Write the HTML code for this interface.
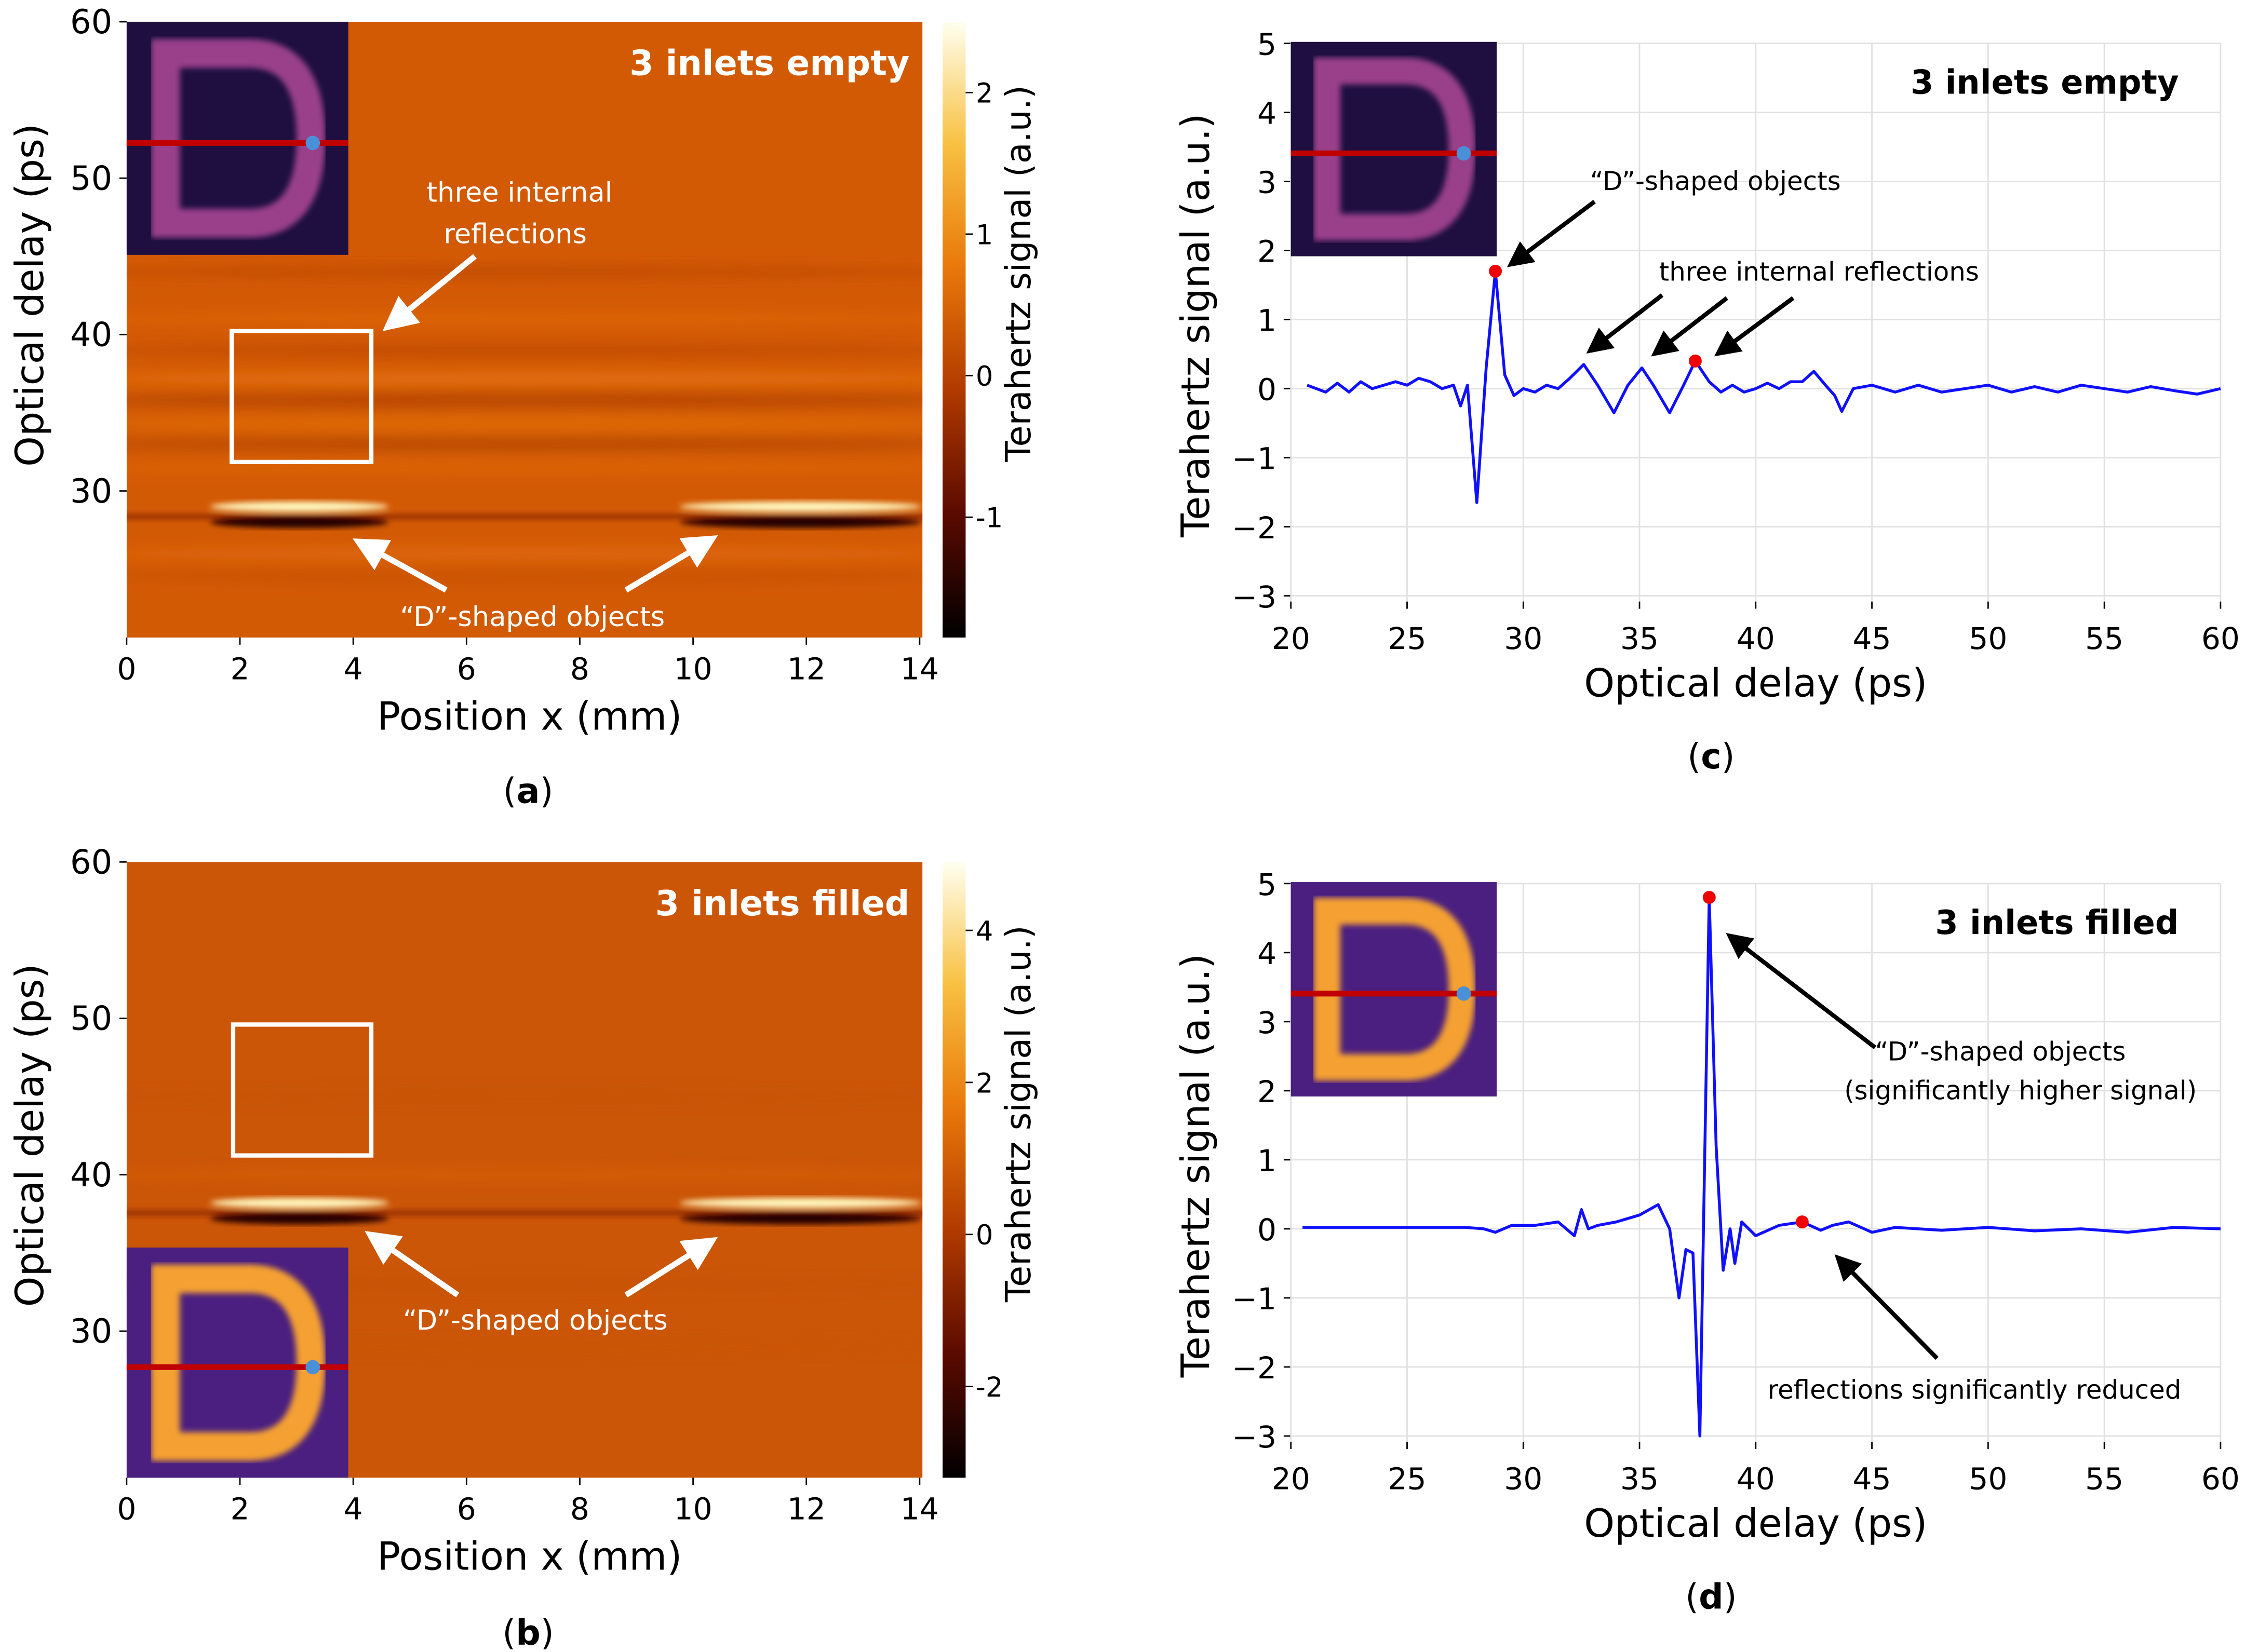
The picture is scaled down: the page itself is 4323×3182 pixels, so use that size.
<!DOCTYPE html>
<html><head><meta charset="utf-8"><style>
html,body{margin:0;padding:0;background:#fff}
svg{display:block}
text{font-family:"DejaVu Sans","Liberation Sans",sans-serif}
</style></head><body>
<svg id="fig" width="4323" height="3182" viewBox="0 0 1560 1148" xmlns="http://www.w3.org/2000/svg">
<defs>
<linearGradient id="cmap" x1="0" y1="1" x2="0" y2="0">
<stop offset="0" stop-color="#000"/><stop offset="0.2" stop-color="#5a0a00"/><stop offset="0.4" stop-color="#b03a00"/><stop offset="0.6" stop-color="#e8780a"/><stop offset="0.8" stop-color="#f8c040"/><stop offset="1" stop-color="#fffff0"/>
</linearGradient>
<filter id="blur2"><feGaussianBlur stdDeviation="2"/></filter>
<filter id="blur4" x="-0.1" y="-0.5" width="1.2" height="2"><feGaussianBlur stdDeviation="4"/></filter>
<clipPath id="clipA"><rect x="88" y="15" width="553" height="428"/></clipPath>
<clipPath id="clipB"><rect x="88" y="599" width="553" height="428"/></clipPath>
<marker id="arrW" markerWidth="6" markerHeight="6" refX="4" refY="3" orient="auto" markerUnits="strokeWidth"><path d="M0,0 L6,3 L0,6 z" fill="#fff"/></marker>
<marker id="arrK" markerWidth="6" markerHeight="6" refX="4" refY="3" orient="auto" markerUnits="strokeWidth"><path d="M0,0 L6,3 L0,6 z" fill="#000"/></marker>
</defs>
<g id="root"></g>
</svg>
<script>
// ---- data for panels (c) and (d) ----
const timesC = [20.7,21.5,22,22.5,23,23.5,24,24.5,25,25.5,26,26.5,27,27.3,27.6,28,28.4,28.8,29.2,29.6,30,30.5,31,31.5,32,32.6,33.2,33.9,34.5,35.1,35.6,36.3,36.9,37.4,38,38.5,39,39.5,40,40.5,41,41.5,42,42.5,43,43.4,43.7,44.2,45,46,47,48,49,50,51,52,53,54,55,56,57,58,59,60];
const valuesC = [0.05,-0.05,0.08,-0.05,0.1,0.0,0.05,0.1,0.05,0.15,0.1,0.0,0.05,-0.25,0.05,-1.65,0.3,1.7,0.2,-0.1,0.0,-0.05,0.05,0.0,0.15,0.35,0.05,-0.35,0.05,0.3,0.05,-0.35,0.05,0.4,0.1,-0.05,0.05,-0.05,0.0,0.08,0.0,0.1,0.1,0.25,0.05,-0.1,-0.33,0.0,0.05,-0.05,0.05,-0.05,0.0,0.05,-0.05,0.03,-0.05,0.05,0.0,-0.05,0.03,-0.03,-0.08,0.0];
const timesD = [20.5,22,24,26,27.5,28.3,28.8,29.5,30.5,31.5,32.2,32.5,32.8,33.2,34,35,35.8,36.3,36.7,37.0,37.3,37.6,38.0,38.3,38.6,38.9,39.1,39.4,40,41,42,42.8,43.3,44,45,46,48,50,52,54,56,58,60];
const valuesD = [0.02,0.02,0.02,0.02,0.02,0.0,-0.05,0.05,0.05,0.1,-0.1,0.28,0.0,0.05,0.1,0.2,0.35,0.0,-1.0,-0.3,-0.35,-3.0,4.8,1.2,-0.6,0.0,-0.5,0.1,-0.1,0.05,0.1,-0.02,0.05,0.1,-0.05,0.02,-0.02,0.02,-0.03,0.0,-0.05,0.02,0.0];
const redC = [[28.8,1.7],[37.4,0.4]];
const redD = [[38.0,4.8],[42.0,0.1]];
const xTicksLine = [20,25,30,35,40,45,50,55,60];
const yTicksLine = [-3,-2,-1,0,1,2,3,4,5];
const xTicksMap = [0,2,4,6,8,10,12,14];
const yTicksMap = [30,40,50,60];
const cbTicksA = [-1,0,1,2];
const cbTicksB = [-2,0,2,4];

const NS="http://www.w3.org/2000/svg";
const root=document.getElementById('root');
function mk(tag,attrs,parent,txt){const e=document.createElementNS(NS,tag);for(const k in attrs)e.setAttribute(k,attrs[k]);if(txt!==undefined)e.textContent=txt;(parent||root).appendChild(e);return e;}

// ---- heatmap panels ----
function heatPanel(top,bandT,label,dataName,cbTicks,cbMin,cbMax,filled){
  const g=mk('g',{});
  
  
  const yS=t=>top+(60-t)*10.87;
  const xS=v=>88+v*39.36;
  const clip=mk('g',{'clip-path':top<300?'url(#clipA)':'url(#clipB)'},g);
  mk('rect',{x:88,y:top,width:553,height:428,fill:filled?'#cc5608':'#d35a05'},clip);
  const st=mk('g',{filter:'url(#blur4)'},clip);
  const stripes = filled ? [[45,'#c04c05',0.3],[40,'#e06a10',0.3],[33,'#c04c05',0.3],[29,'#c85208',0.4]]
    : [[44,'#b84403',0.5],[41,'#e87010',0.4],[39,'#b84403',0.5],[37.2,'#f08010',0.5],[35.8,'#a83c02',0.6],[34.3,'#f08010',0.4],[33,'#a83c02',0.5],[31.5,'#e87010',0.4],[26,'#e87012',0.5],[24.5,'#c44d04',0.5]];
  stripes.forEach(s=>mk('ellipse',{cx:365,cy:yS(s[0]),rx:320,ry:5,fill:s[1],opacity:s[2]},st));
  const b=mk('g',{filter:'url(#blur2)'},clip);
  mk('rect',{x:80,y:yS(bandT)-1,width:570,height:3,fill:'#7a1800',opacity:0.8},b);
  [[1.5,4.6],[9.8,14]].forEach(r=>{
    mk('ellipse',{cx:xS((r[0]+r[1])/2),cy:yS(bandT+0.6),rx:(r[1]-r[0])*20,ry:3.5,fill:'#fff8c0'},b);
    mk('ellipse',{cx:xS((r[0]+r[1])/2),cy:yS(bandT-0.4),rx:(r[1]-r[0])*20,ry:4,fill:'#200000'},b);
  });
  xTicksMap.forEach(v=>{mk('line',{x1:xS(v),y1:top+428,x2:xS(v),y2:top+433,stroke:'#000'},g);
    const t=mk('text',{x:xS(v),y:top+457,'font-size':21,'text-anchor':'middle'},g,String(v));});
  yTicksMap.forEach(v=>{mk('line',{x1:83,y1:yS(v),x2:88,y2:yS(v),stroke:'#000'},g);
    const t=mk('text',{x:78,y:yS(v)+8,'font-size':23,'text-anchor':'end'},g,String(v));});
  const xl=mk('text',{x:368,y:top+492,'font-size':27,'text-anchor':'middle'},g,'Position x (mm)');
  const yl=mk('text',{x:30,y:top+190,'font-size':27,'text-anchor':'middle',transform:`rotate(-90 30 ${top+190})`},g,'Optical delay (ps)');
  mk('rect',{x:655,y:top,width:16,height:428,fill:'url(#cmap)'},g);
  const cS=v=>top+428-(v-cbMin)/(cbMax-cbMin)*428;
  cbTicks.forEach(v=>{mk('line',{x1:671,y1:cS(v),x2:676,y2:cS(v),stroke:'#000'},g);
    const t=mk('text',{x:678,y:cS(v)+7,'font-size':19},g,String(v));});
  const cl=mk('text',{x:716,y:top+175,'font-size':24,'text-anchor':'middle',transform:`rotate(-90 716 ${top+175})`},g,'Terahertz signal (a.u.)');
  const tl=mk('text',{x:632,y:top+37,'font-size':24,'font-weight':'bold',fill:'#fff','text-anchor':'end'},g,label);
  return {g,yS,xS};
}
function dInset(g,x,y,w,h,filled,dataName){
  const ig=mk('g',{},g);
  
  
  mk('rect',{x:x,y:y,width:w,height:h,fill:filled?'#4a1f80':'#1e0f40'},ig);
  const sx=w/154, sy=h/162;
  const p=`M${x+27*sx},${y+22*sy} L${x+27*sx},${y+140*sy} L${x+85*sx},${y+140*sy} Q${x+128*sx},${y+140*sy} ${x+128*sx},${y+81*sy} Q${x+128*sx},${y+22*sy} ${x+85*sx},${y+22*sy} Z`;
  mk('path',{d:p,fill:'none',stroke:filled?'#f4a030':'#9a3f8a','stroke-width':20*sx,filter:'url(#blur2)'},ig);
  mk('line',{x1:x,y1:y+h*0.52,x2:x+w,y2:y+h*0.52,stroke:'#c00000','stroke-width':4},ig);
  mk('circle',{cx:x+w*0.84,cy:y+h*0.52,r:5,fill:'#4a90d8'},ig);
}
const A=heatPanel(15,28.4,'3 inlets empty','heatmap-a',cbTicksA,-1.85,2.5,false);
dInset(A.g,88,15,154,162,false,'inset-a');
mk('rect',{x:161,y:230,width:97,height:91,fill:'none',stroke:'#fff','stroke-width':3},A.g);
mk('text',{x:361,y:140,'font-size':19,fill:'#fff','text-anchor':'middle'},A.g,'three internal');
mk('text',{x:358,y:169,'font-size':19,fill:'#fff','text-anchor':'middle'},A.g,'reflections');
mk('line',{x1:330,y1:178,x2:272,y2:225,stroke:'#fff','stroke-width':4,'marker-end':'url(#arrW)'},A.g);
mk('line',{x1:310,y1:410,x2:252,y2:378,stroke:'#fff','stroke-width':4,'marker-end':'url(#arrW)'},A.g);
mk('line',{x1:435,y1:410,x2:492,y2:376,stroke:'#fff','stroke-width':4,'marker-end':'url(#arrW)'},A.g);
mk('text',{x:370,y:435,'font-size':19,fill:'#fff','text-anchor':'middle'},A.g,'“D”-shaped objects');

const B=heatPanel(599,37.6,'3 inlets filled','heatmap-b',cbTicksB,-3.2,4.9,true);
dInset(B.g,88,867,154,160,true,'inset-b');
mk('rect',{x:162,y:712,width:96,height:91,fill:'none',stroke:'#fff','stroke-width':3},B.g);
mk('line',{x1:318,y1:900,x2:260,y2:860,stroke:'#fff','stroke-width':4,'marker-end':'url(#arrW)'},B.g);
mk('line',{x1:435,y1:900,x2:492,y2:864,stroke:'#fff','stroke-width':4,'marker-end':'url(#arrW)'},B.g);
mk('text',{x:372,y:924,'font-size':19,fill:'#fff','text-anchor':'middle'},B.g,'“D”-shaped objects');

// ---- line panels ----
function linePanel(top,times,vals,reds,label,dataName,filled){
  const g=mk('g',{});
  
  
  const xS=t=>897+(t-20)*16.15;
  const yS=v=>top+(5-v)*48;
  yTicksLine.forEach(v=>{mk('line',{x1:897,y1:yS(v),x2:1543,y2:yS(v),stroke:'#e0e0e0','stroke-width':1},g);
    mk('line',{x1:892,y1:yS(v),x2:897,y2:yS(v),stroke:'#000'},g);
    const t=mk('text',{x:887,y:yS(v)+8,'font-size':21,'text-anchor':'end'},g,v<0?'−'+(-v):String(v));});
  xTicksLine.forEach(v=>{mk('line',{x1:xS(v),y1:top,x2:xS(v),y2:top+388,stroke:'#e0e0e0'},g);
    mk('line',{x1:xS(v),y1:top+388,x2:xS(v),y2:top+393,stroke:'#000'},g);
    const t=mk('text',{x:xS(v),y:top+421,'font-size':21,'text-anchor':'middle'},g,String(v));});
  const xl=mk('text',{x:1220,y:top+454,'font-size':27,'text-anchor':'middle'},g,'Optical delay (ps)');
  const yl=mk('text',{x:840,y:top+196,'font-size':27,'text-anchor':'middle',transform:`rotate(-90 840 ${top+196})`},g,'Terahertz signal (a.u.)');
  const d=times.map((t,i)=>(i?'L':'M')+xS(t).toFixed(1)+','+yS(vals[i]).toFixed(1)).join(' ');
  const ln=mk('path',{d:d,fill:'none',stroke:'#1010ff','stroke-width':2,'stroke-linejoin':'round'},g);
  
  
  reds.forEach(r=>{const c=mk('circle',{cx:xS(r[0]),cy:yS(r[1]),r:4.5,fill:'#f00000'},g);
    
    });
  const tl=mk('text',{x:1514,y:top+35,'font-size':23,'font-weight':'bold','text-anchor':'end'},g,label);
  dInset(g,897,top-1,143,149,filled,'inset-'+dataName);
  return {g,xS,yS};
}
const C=linePanel(30,timesC,valuesC,redC,'3 inlets empty','line-chart-c',false);
mk('text',{x:1192,y:132,'font-size':18,'text-anchor':'middle'},C.g,'“D”-shaped objects');
mk('line',{x1:1108,y1:140,x2:1052,y2:182,stroke:'#000','stroke-width':3,'marker-end':'url(#arrK)'},C.g);
mk('text',{x:1264,y:195,'font-size':18,'text-anchor':'middle'},C.g,'three internal reflections');
mk('line',{x1:1155,y1:205,x2:1107,y2:242,stroke:'#000','stroke-width':3,'marker-end':'url(#arrK)'},C.g);
mk('line',{x1:1200,y1:207,x2:1152,y2:244,stroke:'#000','stroke-width':3,'marker-end':'url(#arrK)'},C.g);
mk('line',{x1:1246,y1:207,x2:1196,y2:244,stroke:'#000','stroke-width':3,'marker-end':'url(#arrK)'},C.g);

const D=linePanel(614,timesD,valuesD,redD,'3 inlets filled','line-chart-d',true);
mk('line',{x1:1303,y1:728,x2:1204,y2:652,stroke:'#000','stroke-width':3,'marker-end':'url(#arrK)'},D.g);
mk('text',{x:1390,y:737,'font-size':18,'text-anchor':'middle'},D.g,'“D”-shaped objects');
mk('text',{x:1404,y:764,'font-size':18,'text-anchor':'middle'},D.g,'(significantly higher signal)');
mk('line',{x1:1346,y1:944,x2:1279,y2:876,stroke:'#000','stroke-width':3,'marker-end':'url(#arrK)'},D.g);
mk('text',{x:1372,y:972,'font-size':18,'text-anchor':'middle'},D.g,'reflections significantly reduced');

[['(a)',367,560],['(b)',367,1145],['(c)',1189,536],['(d)',1189,1120]].forEach(p=>{
  const t=mk('text',{x:p[1],y:p[2]-2,'font-size':24,'text-anchor':'middle','font-family':'Liberation Serif,serif'},root,'');
  
  
  mk('tspan',{},t,'(');mk('tspan',{'font-weight':'bold'},t,p[0][1]);mk('tspan',{},t,')');
});
</script>
</body></html>
